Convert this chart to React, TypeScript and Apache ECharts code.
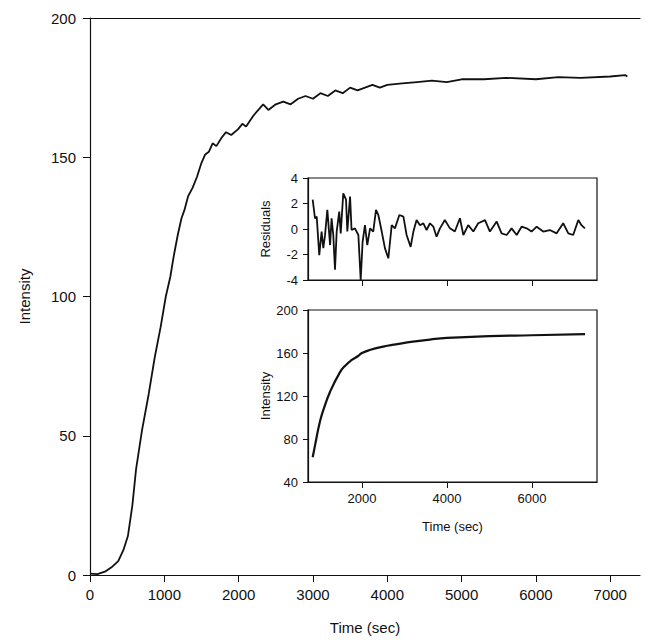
import React, { useEffect, useRef } from "react";
import * as echarts from "echarts";

// main kinetic trace: [time (sec), intensity]
const mainTrace: number[][] = [
  [0, 0.5], [100, 0.3], [200, 1.2], [300, 3], [380, 5], [450, 9], [510, 14], [570, 25],
  [620, 38], [700, 52], [790, 65], [870, 78], [950, 89], [1020, 100], [1080, 107],
  [1130, 115], [1180, 122], [1230, 128], [1270, 131], [1320, 136], [1380, 139],
  [1440, 143], [1500, 148], [1550, 151], [1600, 152], [1650, 155], [1700, 154],
  [1770, 157], [1830, 159], [1900, 158], [1990, 160], [2050, 162], [2100, 161],
  [2200, 165], [2330, 169], [2400, 167], [2500, 169], [2600, 170], [2700, 169],
  [2800, 171], [2900, 172], [3000, 171], [3100, 173], [3200, 172], [3300, 174],
  [3400, 173], [3500, 175], [3600, 174], [3700, 175], [3800, 176], [3900, 175],
  [4000, 176], [4200, 176.5], [4400, 177], [4600, 177.5], [4800, 177], [5000, 178],
  [5300, 178], [5600, 178.5], [6000, 178], [6300, 178.8], [6600, 178.5], [7000, 179],
  [7200, 179.5], [7230, 179],
];

// inset fit curve
const fitTrace: number[][] = [
  [840, 63], [900, 75], [1010, 96], [1100, 108], [1250, 124], [1480, 142], [1600, 148],
  [1760, 153.5], [1900, 157], [2000, 160], [2200, 163], [2500, 166], [2800, 168],
  [3200, 170.5], [3600, 172.5], [4000, 174], [5000, 175.7], [6000, 176.5], [7250, 177.5],
];

// inset residuals
const residualTrace: number[][] = [
  [840, 2.3], [895, 0.84], [935, 0.97], [995, -2.05], [1050, -0.2], [1090, -1.5],
  [1130, -0.5], [1185, 1.5], [1250, -1.26], [1285, 0.84], [1325, -0.47], [1365, -3.2],
  [1405, -0.2], [1465, 1.37], [1500, -0.34], [1560, 2.8], [1625, 2.3], [1655, -0.2],
  [1720, 2.55], [1755, -0.08], [1835, 0.05], [1915, -0.47], [1970, -4], [2015, -1],
  [2070, 0.3], [2125, -1.26], [2190, 0.05], [2265, -0.2], [2330, 1.5], [2385, 1.1],
  [2465, -0.2], [2540, -1.5], [2620, -2.3], [2700, 0.3], [2775, 0.05], [2880, 1.1],
  [2975, 0.97], [3050, -0.47], [3145, -1.4], [3210, -0.2], [3285, 0.7], [3365, 0.3],
  [3445, 0.45], [3520, -0.08], [3600, 0.45], [3680, 0.18], [3755, -0.6], [3835, 0.05],
  [3950, 0.7], [4070, 0.05], [4185, -0.2], [4305, 0.84], [4385, -0.47], [4500, 0.3],
  [4620, -0.2], [4735, 0.45], [4895, 0.7], [5010, -0.2], [5170, 0.58], [5285, -0.34],
  [5405, -0.47], [5520, 0.05], [5640, -0.47], [5755, 0.18], [5875, 0.05], [5990, -0.2],
  [6110, 0.18], [6265, -0.2], [6420, -0.08], [6580, -0.34], [6735, 0.45], [6855, -0.34],
  [6970, -0.47], [7090, 0.7], [7165, 0.3], [7245, 0.05],
];

const insetTicks = [2000, 4000, 6000];

const font = "Liberation Sans, Arial, sans-serif";
const black = "#111";

const App: React.FC = () => {
  const ref = useRef<HTMLDivElement>(null);

  useEffect(() => {
    if (!ref.current) return;
    const chart = echarts.init(ref.current, undefined, { renderer: "svg" });

    const lbl = (size: number) => ({ color: black, fontSize: size, fontFamily: font });
    const line = { show: true, onZero: false, lineStyle: { color: black, width: 1.2 } };
    const plain = (v: number) => String(v);

    chart.setOption({
      animation: false,
      backgroundColor: "#fff",
      grid: [
        { left: 90, right: 6, top: 18, bottom: 69 },
        { left: 308, width: 289, top: 178, height: 102, show: true, borderColor: black, borderWidth: 1.2, backgroundColor: "#fff" },
        { left: 308, width: 289, top: 310, height: 172, show: true, borderColor: black, borderWidth: 1.2, backgroundColor: "#fff" },
      ],
      xAxis: [
        {
          gridIndex: 0, type: "value", min: 0, max: 7400, interval: 1000,
          axisLine: line, axisTick: { show: true, length: 7, lineStyle: { color: black } },
          axisLabel: { ...lbl(15), margin: 12, showMaxLabel: false, formatter: plain },
          splitLine: { show: false },
          name: "Time (sec)", nameLocation: "middle", nameGap: 45, nameTextStyle: lbl(15),
        },
        {
          gridIndex: 0, type: "value", min: 0, max: 7400, position: "top",
          axisLine: line, axisTick: { show: false }, axisLabel: { show: false }, splitLine: { show: false },
        },
        {
          gridIndex: 1, type: "value", min: 730, max: 7530,
          axisLine: line, axisTick: { show: true, length: 6, lineStyle: { color: black }, customValues: insetTicks },
          axisLabel: { show: false, customValues: insetTicks }, splitLine: { show: false },
        },
        {
          gridIndex: 2, type: "value", min: 730, max: 7530,
          axisLine: line,
          axisTick: { show: true, length: 6, lineStyle: { color: black }, customValues: insetTicks },
          axisLabel: { ...lbl(13), margin: 10, customValues: insetTicks, formatter: plain },
          splitLine: { show: false },
          name: "Time (sec)", nameLocation: "middle", nameGap: 38, nameTextStyle: lbl(13),
        },
      ],
      yAxis: [
        {
          gridIndex: 0, type: "value", min: 0, max: 200, interval: 50,
          axisLine: line, axisTick: { show: true, length: 7, lineStyle: { color: black } },
          axisLabel: { ...lbl(15), margin: 14 }, splitLine: { show: false },
          name: "Intensity", nameLocation: "middle", nameGap: 58, nameTextStyle: lbl(15),
        },
        {
          gridIndex: 1, type: "value", min: -4, max: 4, interval: 2,
          axisLine: line, axisTick: { show: true, length: 5, lineStyle: { color: black } },
          axisLabel: { ...lbl(13), margin: 10 }, splitLine: { show: false },
          name: "Residuals", nameLocation: "middle", nameGap: 36, nameTextStyle: lbl(13),
        },
        {
          gridIndex: 2, type: "value", min: 40, max: 200, interval: 40,
          axisLine: line, axisTick: { show: true, length: 5, lineStyle: { color: black } },
          axisLabel: { ...lbl(13), margin: 10 }, splitLine: { show: false },
          name: "Intensity", nameLocation: "middle", nameGap: 36, nameTextStyle: lbl(13),
        },
      ],
      series: [
        { type: "line", xAxisIndex: 0, yAxisIndex: 0, data: mainTrace, showSymbol: false, lineStyle: { color: black, width: 1.8 } },
        { type: "line", xAxisIndex: 2, yAxisIndex: 1, data: residualTrace, showSymbol: false, lineStyle: { color: black, width: 1.8 } },
        { type: "line", xAxisIndex: 3, yAxisIndex: 2, data: fitTrace, smooth: true, showSymbol: false, lineStyle: { color: black, width: 2.2 } },
      ],
    });

    return () => chart.dispose();
  }, []);

  return <div ref={ref} style={{ position: "fixed", left: 0, top: 0, width: 646, height: 644 }} />;
};

export default App;
